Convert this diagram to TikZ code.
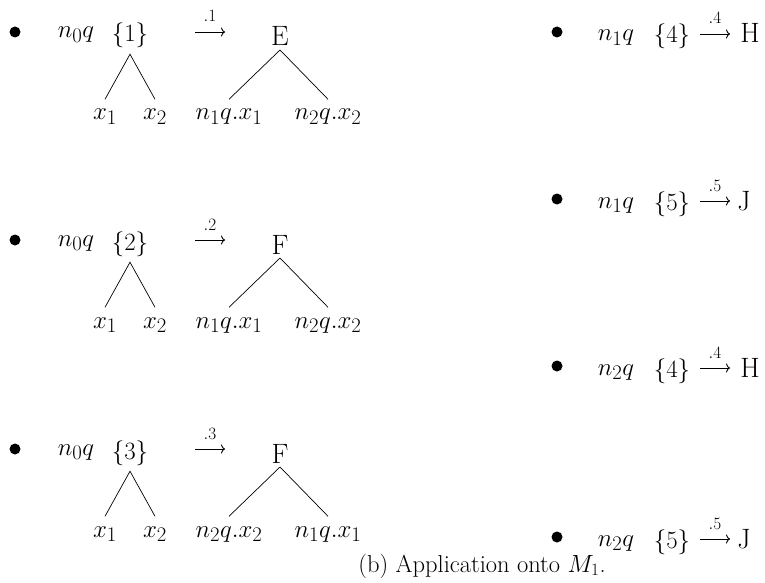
\documentclass[tikz,border=0pt]{standalone}
\usepackage{amsmath}
\usetikzlibrary{arrows.meta}
\begin{document}
\begin{tikzpicture}[x=1pt,y=-1pt,
  every node/.style={font=\fontsize{28}{33}\selectfont, inner sep=0pt, outer sep=0pt, anchor=base},
  dot/.style={circle, fill=black, minimum size=11pt, anchor=center},
  rootset/.style={outer ysep=6pt},
  rootlab/.style={outer ysep=4pt},
  leaf/.style={outer ysep=10pt},
  prob/.style={font=\fontsize{19}{22}\selectfont},
  branch/.style={line width=0.7pt},
  maparrow/.style={line width=0.9pt, -{To[length=4pt,width=9pt]}},
  caption/.style={font=\fontsize{24.5}{28}\selectfont}
]
\useasboundingbox (0,0) rectangle (765,583);

% ---------- left column, row 1 ----------
\node[dot] (lb1) at (15,32) {};
\node (lq1) at (76,38) {$n_0q$};
\node[rootset] (ls1) at (130,42) {$\{1\}$};
\coordinate (la1s) at (195,32); \coordinate (la1e) at (225,32);
\draw[maparrow] (la1s) -- (la1e);
\node[prob] (lp1) at (210,22) {$.1$};
\node[rootlab] (lr1) at (280,46) {E};
\node[leaf] (lc11) at (105,120) {$x_1$};
\node[leaf] (lc12) at (155,120) {$x_2$};
\node[leaf] (ld11) at (229,120) {$n_1q.x_1$};
\node[leaf] (ld12) at (328,120) {$n_2q.x_2$};
\draw[branch] (lc11.north) -- (ls1.south) -- (lc12.north);
\draw[branch] (ld11.north) -- (lr1.south) -- (ld12.north);

% ---------- left column, row 2 ----------
\node[dot] (lb2) at (15,240) {};
\node (lq2) at (76,246) {$n_0q$};
\node[rootset] (ls2) at (130,250) {$\{2\}$};
\coordinate (la2s) at (195,240); \coordinate (la2e) at (225,240);
\draw[maparrow] (la2s) -- (la2e);
\node[prob] (lp2) at (210,230) {$.2$};
\node[rootlab] (lr2) at (280,254) {F};
\node[leaf] (lc21) at (105,328) {$x_1$};
\node[leaf] (lc22) at (155,328) {$x_2$};
\node[leaf] (ld21) at (229,328) {$n_1q.x_1$};
\node[leaf] (ld22) at (328,328) {$n_2q.x_2$};
\draw[branch] (lc21.north) -- (ls2.south) -- (lc22.north);
\draw[branch] (ld21.north) -- (lr2.south) -- (ld22.north);

% ---------- left column, row 3 ----------
\node[dot] (lb3) at (15,449) {};
\node (lq3) at (76,455) {$n_0q$};
\node[rootset] (ls3) at (130,459) {$\{3\}$};
\coordinate (la3s) at (195,449); \coordinate (la3e) at (225,449);
\draw[maparrow] (la3s) -- (la3e);
\node[prob] (lp3) at (210,439) {$.3$};
\node[rootlab] (lr3) at (280,463) {F};
\node[leaf] (lc31) at (105,537) {$x_1$};
\node[leaf] (lc32) at (155,537) {$x_2$};
\node[leaf] (ld31) at (229,537) {$n_2q.x_2$};
\node[leaf] (ld32) at (328,537) {$n_1q.x_1$};
\draw[branch] (lc31.north) -- (ls3.south) -- (lc32.north);
\draw[branch] (ld31.north) -- (lr3.south) -- (ld32.north);

% ---------- right column ----------
\node[dot] (rb1) at (557,32) {};
\node (rq1) at (616,41) {$n_1q$};
\node (rs1) at (672,43) {$\{4\}$};
\coordinate (ra1s) at (700,34); \coordinate (ra1e) at (730,34);
\draw[maparrow] (ra1s) -- (ra1e);
\node[prob] (rp1) at (715,24) {$.4$};
\node (rt1) at (750,43) {H};

\node[dot] (rb2) at (557,199) {};
\node (rq2) at (616,208) {$n_1q$};
\node (rs2) at (672,210) {$\{5\}$};
\coordinate (ra2s) at (700,201); \coordinate (ra2e) at (730,201);
\draw[maparrow] (ra2s) -- (ra2e);
\node[prob] (rp2) at (715,191) {$.5$};
\node (rt2) at (744,210) {J};

\node[dot] (rb3) at (557,366) {};
\node (rq3) at (616,375) {$n_2q$};
\node (rs3) at (672,377) {$\{4\}$};
\coordinate (ra3s) at (700,368); \coordinate (ra3e) at (730,368);
\draw[maparrow] (ra3s) -- (ra3e);
\node[prob] (rp3) at (715,358) {$.4$};
\node (rt3) at (750,377) {H};

\node[dot] (rb4) at (557,537) {};
\node (rq4) at (616,546) {$n_2q$};
\node (rs4) at (672,548) {$\{5\}$};
\coordinate (ra4s) at (700,539); \coordinate (ra4e) at (730,539);
\draw[maparrow] (ra4s) -- (ra4e);
\node[prob] (rp4) at (715,529) {$.5$};
\node (rt4) at (744,548) {J};

% ---------- caption ----------
\node[caption] (cap) at (482,572) {(b) Application onto $M_1$.};
\end{tikzpicture}
\end{document}
